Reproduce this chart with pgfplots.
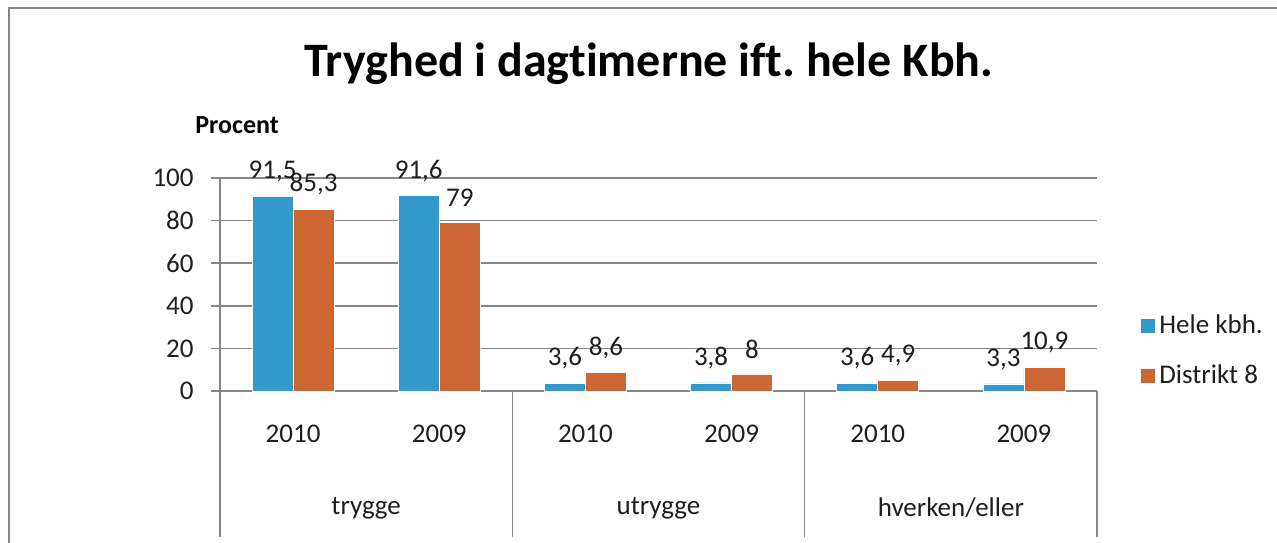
\documentclass[border=0pt]{standalone}
\usepackage{fontspec}
\setmainfont{Carlito}[Ligatures={NoCommon}]
\usepackage{pgfplots}
\usepackage{pgfplotstable}
\pgfplotsset{compat=1.18}
\frenchspacing
\definecolor{cblue}{RGB}{51,153,204}
\definecolor{corange}{RGB}{204,102,51}
\definecolor{gridgray}{RGB}{134,134,134}
\definecolor{txt}{RGB}{30,30,30}
\pgfplotstableread{
x y
0 91.5
1 91.6
2 3.6
3 3.8
4 3.6
5 3.3
}\hele
\pgfplotstableread{
x y
0 85.3
1 79
2 8.6
3 8
4 4.9
5 10.9
}\distrikt
\begin{document}
\begin{tikzpicture}
\path[use as bounding box] (0,0) rectangle (638.5pt,271pt);
\draw[gridgray, line width=0.75pt] (4.5pt,-2pt) -- (4.5pt,267pt) -- (640pt,267pt);
\node[font=\fontsize{24}{28}\selectfont\bfseries, text=black] at (324.5pt,239pt) {Tryghed i dagtimerne ift. hele Kbh.};
\node[anchor=west, font=\fontsize{13}{15}\selectfont\bfseries, inner sep=0pt, text=black] at (97.5pt,208.5pt) {Procent};
\begin{axis}[
  at={(110pt,75.5pt)}, anchor=south west,
  scale only axis, width=438.5pt, height=106.5pt,
  xmin=-0.5, xmax=5.5, ymin=0, ymax=100,
  ytick={0,20,...,100},
  xtick={0,...,5}, xticklabels={2010,2009,2010,2009,2010,2009},
  axis x line*=bottom, axis y line*=left,
  axis line style={gridgray, line width=0.75pt, -},
  ymajorgrids, grid style={gridgray, line width=0.75pt},
  tick align=outside, major tick length=4.5pt,
  ytick style={gridgray, line width=0.75pt},
  xtick style={draw=none},
  tick label style={font=\fontsize{13.5}{16}\selectfont, text=txt},
  /pgf/number format/assume math mode=true,
  yticklabel style={anchor=east, inner sep=0pt, xshift=-8.5pt},
  xticklabel style={anchor=center, inner sep=0pt, yshift=-17pt},
  ybar=0pt, bar width=20.5pt,
  clip=false,
  nodes near coords,
  nodes near coords style={font=\fontsize{13.5}{16}\selectfont, text=txt, anchor=center, inner sep=0pt, yshift=12.5pt,
    /pgf/number format/.cd, use comma, fixed, precision=1, assume math mode=true},
  legend style={at={(rel axis cs:1.048,0.19)}, anchor=west, draw=none, fill=none, inner sep=0pt,
    font=\fontsize{13.5}{16}\selectfont, text=txt, row sep=10pt,
    /tikz/every even column/.append style={column sep=3pt}},
  legend cell align=left,
  legend image code/.code={\fill[#1] (0pt,-3.75pt) rectangle (7.5pt,3.75pt);},
]
\addplot[fill=cblue, draw=white, line width=0.4pt] table[x=x,y=y] {\hele};
\addlegendentry{Hele kbh.}
\addplot[fill=corange, draw=white, line width=0.4pt] table[x=x,y=y] {\distrikt};
\addlegendentry{Distrikt 8}
\draw[gridgray, line width=0.75pt] (axis cs:-0.5,0) -- ++(0pt,-73pt);
\draw[gridgray, line width=0.75pt] (axis cs:1.5,0) -- ++(0pt,-73pt);
\draw[gridgray, line width=0.75pt] (axis cs:3.5,0) -- ++(0pt,-73pt);
\draw[gridgray, line width=0.75pt] (axis cs:5.5,0) -- ++(0pt,-73pt);
\node[font=\fontsize{13.5}{16}\selectfont, text=txt] at ([yshift=-58.5pt]axis cs:0.5,0) {trygge};
\node[font=\fontsize{13.5}{16}\selectfont, text=txt] at ([yshift=-58.5pt]axis cs:2.5,0) {utrygge};
\node[font=\fontsize{13.5}{16}\selectfont, text=txt] at ([yshift=-58.5pt]axis cs:4.5,0) {hverken/eller};
\end{axis}
\end{tikzpicture}
\end{document}
